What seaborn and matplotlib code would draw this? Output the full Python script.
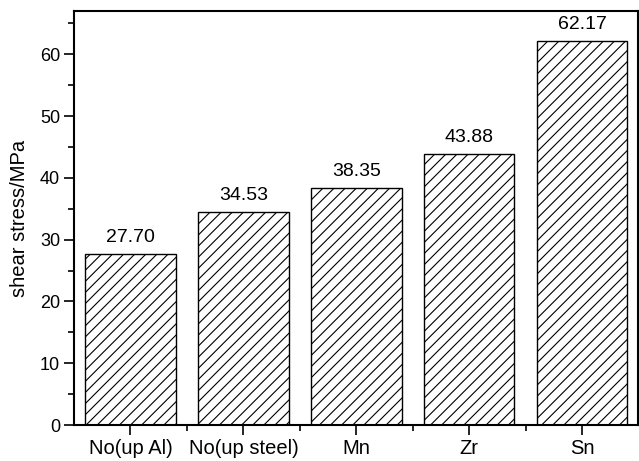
import pandas as pd
import seaborn as sns
import matplotlib.pyplot as plt
from matplotlib.ticker import MultipleLocator

categories = ["No(up Al)", "No(up steel)", "Mn", "Zr", "Sn"]
shear_stress = [27.70, 34.53, 38.35, 43.88, 62.17]

df = pd.DataFrame({"sample": categories, "stress": shear_stress})

sns.set_style("ticks")
plt.rcParams['font.family'] = ['Liberation Sans', 'DejaVu Sans']
plt.rcParams['hatch.linewidth'] = 0.8
plt.rcParams['text.color'] = 'black'
plt.rcParams['axes.labelcolor'] = 'black'
plt.rcParams['xtick.color'] = 'black'
plt.rcParams['ytick.color'] = 'black'

fig = plt.figure(figsize=(6.39, 4.61), dpi=100)
ax = fig.add_axes([0.1158, 0.078, 0.882, 0.898])

sns.barplot(data=df, x="sample", y="stress", ax=ax, color="white",
            edgecolor="black", linewidth=1.0, width=0.8, hatch="///")

# value labels
for i, v in enumerate(shear_stress):
    ax.text(i, v + 1.3, f"{v:.2f}", ha="center", va="bottom", fontsize=14)

ax.set_xlim(-0.5, 4.49)
ax.set_ylim(0, 67)
ax.yaxis.set_major_locator(MultipleLocator(10))
ax.yaxis.set_minor_locator(MultipleLocator(5))
ax.set_xticks(range(len(categories)))
ax.set_xticks([0.5, 1.5, 2.5, 3.5], minor=True)
ax.set_xticklabels(categories, fontsize=14.5)
ax.tick_params(axis="y", labelsize=13)
ax.tick_params(which="major", direction="out", length=7, width=1.2, color="black", pad=3)
ax.tick_params(which="minor", direction="out", length=4, width=1.2, color="black")
ax.set_xlabel("")
ax.set_ylabel("shear stress/MPa", fontsize=14.5, labelpad=8)

for s in ax.spines.values():
    s.set_visible(True)
    s.set_linewidth(1.5)
    s.set_color("black")

plt.savefig("out.png", dpi=100)
